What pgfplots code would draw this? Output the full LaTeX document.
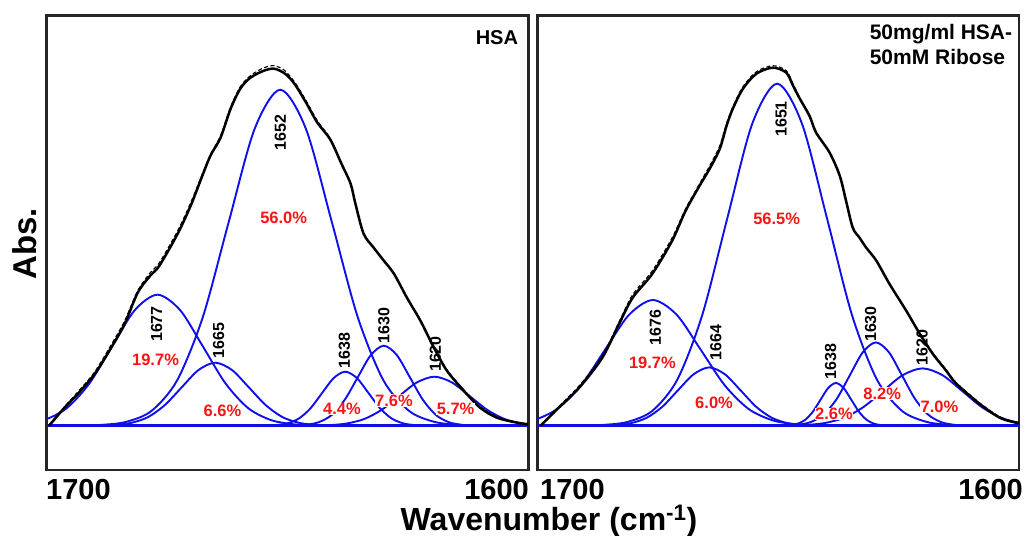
\documentclass[border=0pt]{standalone}
\usepackage{pgfplots}
\pgfplotsset{compat=1.18}
\usepackage{fontspec}
\setmainfont{Liberation Sans}
\definecolor{fitblue}{RGB}{15,15,235}
\definecolor{pctred}{RGB}{250,20,20}

\pgfplotsset{
  panel/.style={
    anchor=south west, scale only axis,
    width=481.6pt, height=454.3pt,
    xmin=1600, xmax=1700, x dir=reverse,
    ymin=-44.3, ymax=410,
    ticks=none,
    axis line style={line width=2.8pt, black!85},
  },
  band/.style={fitblue, line width=1.9pt, smooth},
  meas/.style={black, line width=2.5pt, smooth},
  fit/.style={black, line width=1.1pt, dash pattern=on 4pt off 2.5pt, smooth},
}
\tikzset{
  pk/.style={rotate=90, inner sep=0pt, font=\bfseries\fontsize{16}{16}\selectfont},
  pc/.style={fill=white, inner sep=0.6pt, text=pctred, font=\bfseries\fontsize{16.5}{16.5}\selectfont},
}

\begin{document}
\begin{tikzpicture}[x=1pt,y=1pt]
\useasboundingbox (0,0) rectangle (1027,535);

% ---- left panel: HSA
\begin{axis}[panel, at={(46.7pt,65pt)}]
\addplot[fitblue, line width=2.6pt] coordinates {(1700,0) (1600,0)};
\addplot[band] coordinates {(1714.6,0)(1709.9,0.29)(1705.2,1.45)(1700.5,5.75)(1695.8,17.7)(1691.1,42.5)(1686.4,79.5)(1681.7,115.6)(1677,131)(1672.3,115.6)(1667.6,79.5)(1662.9,42.5)(1658.2,17.7)(1653.5,5.75)(1648.8,1.45)(1644.1,0.29)(1639.4,0)};
\addplot[band] coordinates {(1693,0)(1689.5,0.14)(1686,0.70)(1682.5,2.77)(1679,8.5)(1675.5,20.5)(1672,38.2)(1668.5,55.6)(1665,63)(1661.5,55.6)(1658,38.2)(1654.5,20.5)(1651,8.5)(1647.5,2.77)(1644,0.70)(1640.5,0.14)(1637,0)};
\addplot[band] coordinates {(1694.3,0)(1688.95,0.74)(1683.6,3.73)(1678.25,14.75)(1672.9,45.5)(1667.55,109.1)(1662.2,203.8)(1656.85,296.5)(1651.5,336)(1646.15,296.5)(1640.8,203.8)(1635.45,109.1)(1630.1,45.5)(1624.75,14.75)(1619.4,3.73)(1614.05,0.74)(1608.7,0)};
\addplot[band] coordinates {(1657.2,0)(1654.8,0.12)(1652.4,0.60)(1650,2.37)(1647.6,7.3)(1645.2,17.5)(1642.8,32.8)(1640.4,47.7)(1638,54)(1635.6,47.7)(1633.2,32.8)(1630.8,17.5)(1628.4,7.3)(1626,2.37)(1623.6,0.60)(1621.2,0.12)(1618.8,0)};
\addplot[band] coordinates {(1651.6,0)(1648.9,0.18)(1646.2,0.89)(1643.5,3.51)(1640.8,10.8)(1638.1,26.0)(1635.4,48.5)(1632.7,70.6)(1630,80)(1627.3,70.6)(1624.6,48.5)(1621.9,26.0)(1619.2,10.8)(1616.5,3.51)(1613.8,0.89)(1611.1,0.18)(1608.4,0)};
\addplot[band] coordinates {(1648.7,0)(1645.05,0.11)(1641.4,0.54)(1637.75,2.15)(1634.1,6.63)(1630.45,15.9)(1626.8,29.7)(1623.15,43.2)(1619.5,49)(1615.85,43.2)(1612.2,29.7)(1608.55,15.9)(1604.9,6.63)(1601.25,2.15)(1597.6,0.54)(1593.95,0.11)(1590.3,0)};
% measured spectrum
\addplot[meas] coordinates {(1699.5,0)(1696.3,18)(1693.5,32)(1690.0,52)(1686.6,78)(1683.8,102)(1681.1,133)(1678.5,150)(1676.6,160)(1672.8,192)(1670.1,220)(1668.0,246)(1666.0,270)(1663.9,288)(1661.8,317)(1659.8,337)(1657.7,348)(1654.9,355)(1652.8,357)(1650.8,353)(1649.4,347)(1648.0,338)(1645.9,321)(1643.8,303)(1641.1,286)(1638.8,262)(1636.9,242)(1635.9,222)(1634.2,192)(1632.1,178)(1630.0,165)(1627.9,152)(1625.2,128)(1622.4,105)(1619.6,78)(1616.9,55)(1613.4,35)(1610.0,18)(1606.5,8)(1602.3,3)(1600,1.5)};
% fitted sum
\addplot[fit] coordinates {(1699.5,1)(1696.3,19)(1693.5,34)(1690.0,54)(1686.6,81)(1683.8,105)(1681.1,135)(1678.5,153)(1676.6,163)(1672.8,195)(1670.1,223)(1668.0,248)(1666.0,271)(1663.9,290)(1661.8,319)(1659.8,339)(1657.7,350)(1654.9,358)(1652.8,360)(1650.8,356)(1649.4,349)(1648.0,340)(1645.9,323)(1643.8,305)(1641.1,287)(1638.8,262)(1636.9,242)(1635.9,222)(1634.2,192)(1632.1,178)(1630.0,165)(1627.9,152)(1625.2,128)(1622.4,105)(1619.6,79)(1616.9,56)(1613.4,36)(1610.0,19)(1606.5,9)(1602.3,3)(1600,1.5)};
\node[pk] at (axis cs:1651.5,293) {1652};
\node[pk] at (axis cs:1677.2,101.7) {1677};
\node[pk] at (axis cs:1664.3,85) {1665};
\node[pk] at (axis cs:1638.2,75) {1638};
\node[pk] at (axis cs:1630,100) {1630};
\node[pk] at (axis cs:1619.3,71.7) {1620};
\node[pc] at (axis cs:1650.8,207.7) {56.0\%};
\node[pc] at (axis cs:1677.4,66) {19.7\%};
\node[pc] at (axis cs:1663.5,15) {6.6\%};
\node[pc] at (axis cs:1638.7,16.7) {4.4\%};
\node[pc] at (axis cs:1627.9,25) {7.6\%};
\node[pc] at (axis cs:1615.1,16.7) {5.7\%};
\node[anchor=east, inner sep=0pt, font=\bfseries\fontsize{20}{20}\selectfont] at (axis cs:1602.1,388) {HSA};
\end{axis}

% ---- right panel: HSA + ribose
\begin{axis}[panel, at={(537.3pt,65pt)}]
\addplot[fitblue, line width=2.6pt] coordinates {(1700,0) (1600,0)};
\addplot[band] coordinates {(1715.6,0)(1710.65,0.28)(1705.7,1.40)(1700.75,5.52)(1695.8,17.0)(1690.85,40.8)(1685.9,76.2)(1680.95,110.9)(1676,125.7)(1671.05,110.9)(1666.1,76.2)(1661.15,40.8)(1656.2,17.0)(1651.25,5.52)(1646.3,1.40)(1641.35,0.28)(1636.4,0)};
\addplot[band] coordinates {(1690.3,0)(1687.05,0.13)(1683.8,0.65)(1680.55,2.56)(1677.3,7.89)(1674.05,18.9)(1670.8,35.4)(1667.55,51.4)(1664.3,58.3)(1661.05,51.4)(1657.8,35.4)(1654.55,18.9)(1651.3,7.89)(1648.05,2.56)(1644.8,0.65)(1641.55,0.13)(1638.3,0)};
\addplot[band] coordinates {(1691.6,0)(1686.43,0.75)(1681.25,3.80)(1676.08,15.0)(1670.9,46.3)(1665.73,111.0)(1660.55,207.4)(1655.38,301.8)(1650.2,342)(1645.03,301.8)(1639.85,207.4)(1634.68,111.0)(1629.5,46.3)(1624.33,15.0)(1619.15,3.80)(1613.98,0.75)(1608.8,0)};
\addplot[band] coordinates {(1650.8,0)(1649.2,0.09)(1647.6,0.47)(1646,1.87)(1644.4,5.78)(1642.8,13.9)(1641.2,25.9)(1639.6,37.7)(1638,42.7)(1636.4,37.7)(1634.8,25.9)(1633.2,13.9)(1631.6,5.78)(1630,1.87)(1628.4,0.47)(1626.8,0.09)(1625.2,0)};
\addplot[band] coordinates {(1651.3,0)(1648.6,0.18)(1645.9,0.92)(1643.2,3.66)(1640.5,11.3)(1637.8,27.0)(1635.1,50.5)(1632.4,73.5)(1629.7,83.3)(1627,73.5)(1624.3,50.5)(1621.6,27.0)(1618.9,11.3)(1616.2,3.66)(1613.5,0.92)(1610.8,0.18)(1608.1,0)};
\addplot[band] coordinates {(1652.8,0)(1648.7,0.13)(1644.6,0.64)(1640.5,2.52)(1636.4,7.75)(1632.3,18.6)(1628.2,34.8)(1624.1,50.6)(1620,57.3)(1615.9,50.6)(1611.8,34.8)(1607.7,18.6)(1603.6,7.75)(1599.5,2.52)(1595.4,0.64)(1591.3,0.13)(1587.2,0)};
\addplot[meas] coordinates {(1699.3,0)(1696.2,15)(1691.3,38)(1686.5,68)(1683.0,102)(1680.2,128)(1676.1,152)(1672.0,185)(1669.2,215)(1666.3,240)(1664.2,257)(1662.1,277)(1660.7,300)(1659.4,317)(1657.3,337)(1654.5,352)(1651.1,358)(1648.3,353)(1646.9,340)(1645.5,327)(1643.5,310)(1642.1,293)(1639.3,273)(1637.2,250)(1635.9,225)(1634.5,198)(1633.1,188)(1631.7,178)(1629.6,165)(1626.9,142)(1623.4,115)(1620.6,92)(1617.9,72)(1615.1,55)(1613.0,42)(1608.2,22)(1604.0,8)(1600.6,3)(1600,2.5)};
\addplot[fit] coordinates {(1699.3,1)(1696.2,16)(1691.3,40)(1686.5,70)(1683.0,104)(1680.2,131)(1676.1,155)(1672.0,188)(1669.2,217)(1666.3,242)(1664.2,260)(1662.1,280)(1660.7,302)(1659.4,319)(1657.3,339)(1654.5,354)(1651.1,360)(1648.3,355)(1646.9,342)(1645.5,328)(1643.5,311)(1642.1,294)(1639.3,273)(1637.2,250)(1635.9,225)(1634.5,198)(1633.1,188)(1631.7,178)(1629.6,165)(1626.9,142)(1623.4,115)(1620.6,93)(1617.9,73)(1615.1,56)(1613.0,43)(1608.2,23)(1604.0,9)(1600.6,3)(1600,2.5)};
\node[pk] at (axis cs:1649.4,306.7) {1651};
\node[pk] at (axis cs:1675.5,98.3) {1676};
\node[pk] at (axis cs:1662.9,83.3) {1664};
\node[pk] at (axis cs:1639.1,64.3) {1638};
\node[pk] at (axis cs:1630.8,101.7) {1630};
\node[pk] at (axis cs:1620.1,78.3) {1620};
\node[pc] at (axis cs:1650.3,207.3) {56.5\%};
\node[pc] at (axis cs:1676.1,63.3) {19.7\%};
\node[pc] at (axis cs:1663.3,23.3) {6.0\%};
\node[pc] at (axis cs:1638.4,11.7) {2.6\%};
\node[pc] at (axis cs:1628.4,32.3) {8.2\%};
\node[pc] at (axis cs:1616.5,19) {7.0\%};
\node[anchor=west, inner sep=0pt, font=\bfseries\fontsize{21}{21}\selectfont] at (axis cs:1631,391.7) {50mg/ml HSA-};
\node[anchor=west, inner sep=0pt, font=\bfseries\fontsize{21}{21}\selectfont] at (axis cs:1631,368.3) {50mM Ribose};
\end{axis}

% ---- outer labels
\begin{scope}[every node/.style={inner sep=0pt, font=\bfseries\fontsize{29}{29}\selectfont}]
\node[anchor=base west] at (46,35) {1700};
\node[anchor=base east] at (529,35) {1600};
\node[anchor=base west] at (540,35) {1700};
\node[anchor=base east] at (1023,35) {1600};
\end{scope}
\node[anchor=base, inner sep=0pt, font=\bfseries\fontsize{32}{32}\selectfont] at (549,5) {Wavenumber (cm\textsuperscript{-1})};
\node[rotate=90, inner sep=0pt, font=\bfseries\fontsize{33}{33}\selectfont] at (25,291) {Abs.};
\end{tikzpicture}
\end{document}
